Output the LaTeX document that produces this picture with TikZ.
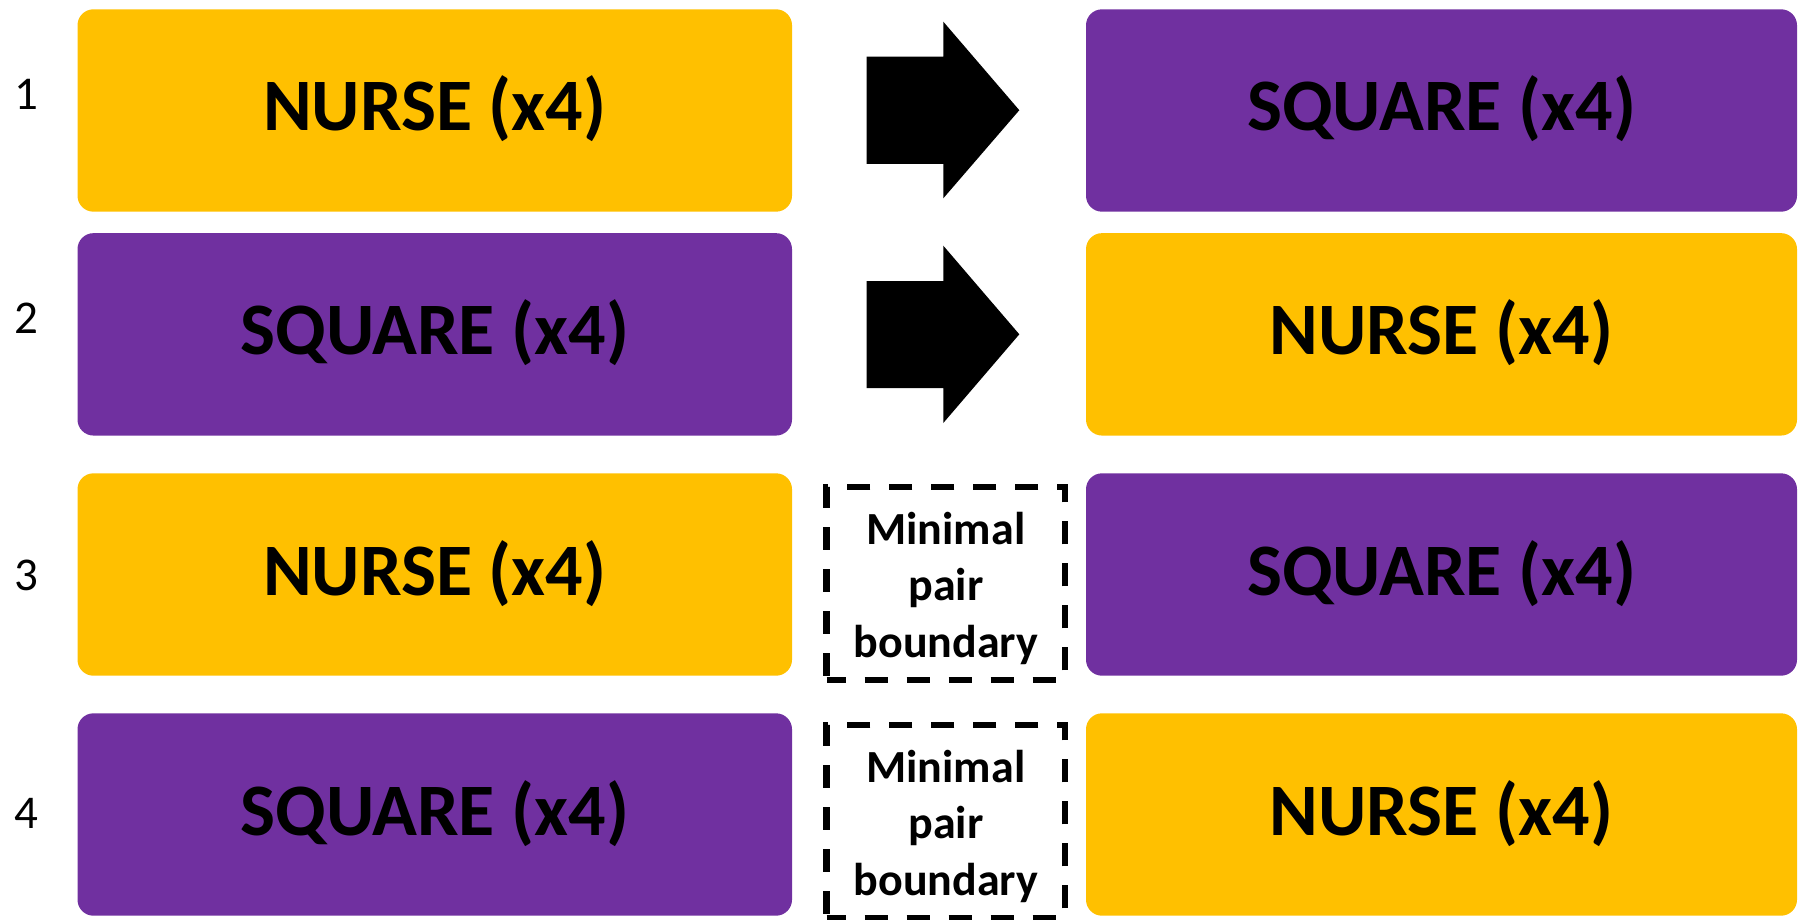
\documentclass[tikz,border=0pt]{standalone}
\usepackage{fontspec}
\setmainfont{Carlito}
\definecolor{nurseyellow}{HTML}{FFC000}
\definecolor{squarepurple}{HTML}{7030A0}
\newcommand{\firstlinestrut}{\rule{0pt}{42pt}}
\tikzset{
  wordbox/.style={rectangle, rounded corners=16pt, draw=none,
    minimum width=714.5pt, minimum height=202.4pt, inner sep=0pt,
    text height=52pt, text depth=11pt,
    font=\fontsize{74}{88}\selectfont\bfseries, text=black},
  rightbox/.style={wordbox, minimum width=711pt},
  nurse/.style={fill=nurseyellow},
  square/.style={fill=squarepurple},
  rownum/.style={anchor=base, inner sep=0pt, font=\fontsize{47}{56}\selectfont},
  pairbox/.style={draw=black, line width=6.5pt, dash pattern=on 23pt off 19pt,
    dash phase=4pt, minimum width=238.3pt, minimum height=193pt, inner sep=0pt,
    align=center, font=\fontsize{46}{56.3}\selectfont\bfseries},
  blockarrow/.style={fill=black}
}
\begin{document}
\begin{tikzpicture}[x=1pt, y=-1pt]
  \useasboundingbox (0,0) rectangle (1798,920);

  % left column
  \node[wordbox, nurse]  (l1) at (434.75,110.5) {NURSE (x4)};
  \node[wordbox, square] (l2) at (434.75,334.35) {SQUARE (x4)};
  \node[wordbox, nurse]  (l3) at (434.75,574.5) {NURSE (x4)};
  \node[wordbox, square] (l4) at (434.75,814.5) {SQUARE (x4)};

  % right column
  \node[rightbox, square] (r1) at (1441.5,110.5) {SQUARE (x4)};
  \node[rightbox, nurse]  (r2) at (1441.5,334.35) {NURSE (x4)};
  \node[rightbox, square] (r3) at (1441.5,574.5) {SQUARE (x4)};
  \node[rightbox, nurse]  (r4) at (1441.5,814.5) {NURSE (x4)};

  % row numbers
  \node[rownum] (n1) at (26.2,109.3) {1};
  \node[rownum] (n2) at (26.2,333) {2};
  \node[rownum] (n3) at (26.2,590) {3};
  \node[rownum] (n4) at (26.2,828) {4};

  % block arrows for rows 1 and 2
  \fill[blockarrow] (866.7,56.7) -- (943.3,56.7) -- (943.3,21.7) -- (1019.3,110.2)
    -- (943.3,198.3) -- (943.3,164) -- (866.7,164) -- cycle;
  \fill[blockarrow] (866.7,281) -- (943.3,281) -- (943.3,245.7) -- (1019.3,334.3)
    -- (943.3,423) -- (943.3,388) -- (866.7,388) -- cycle;

  % minimal pair boundaries for rows 3 and 4
  \node[pairbox] (b3) at (945.85,583.5) {\firstlinestrut Minimal\\pair\\boundary};
  \node[pairbox] (b4) at (945.85,821.5) {\firstlinestrut Minimal\\pair\\boundary};
\end{tikzpicture}
\end{document}
